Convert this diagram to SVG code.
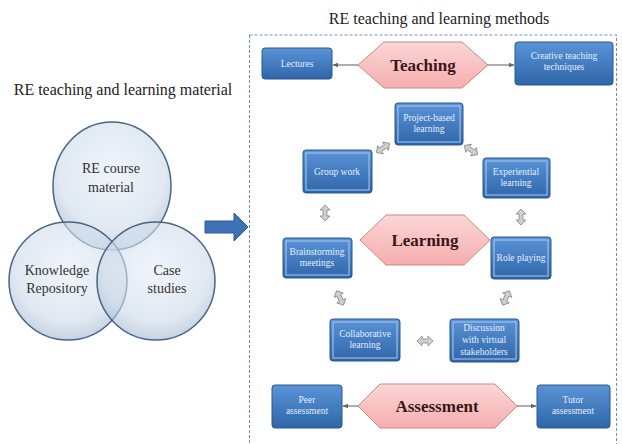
<svg xmlns="http://www.w3.org/2000/svg" xmlns:xlink="http://www.w3.org/1999/xlink" width="622" height="444" viewBox="0 0 622 444">
<defs>
<style>
.title{font-family:"Liberation Serif",serif;font-size:16px;fill:#222;text-anchor:middle}
.venn{fill:url(#vg);stroke:#4b6584;stroke-width:1.5;fill-opacity:0.6}
.vt{font-family:"Liberation Serif",serif;font-size:14px;fill:#333;text-anchor:middle}
.box{fill:url(#bg);stroke:#2b568c;stroke-width:1}
.inner{fill:none;stroke:#a9c9ef;stroke-width:1}
.bt{font-family:"Liberation Serif",serif;font-size:9.5px;fill:#e3eefc;text-anchor:middle}
.hex{fill:url(#hg);stroke:#d08686;stroke-width:1}
.ht{font-family:"Liberation Serif",serif;font-weight:bold;font-size:17px;fill:#3a1616;text-anchor:middle}
.conn{stroke:#777;stroke-width:1.2;fill:none;marker-end:url(#ah)}
.da{fill:#cfcfcf;stroke:#888;stroke-width:0.8}
</style>
<radialGradient id="vg" cx="0.5" cy="0.4" r="0.6">
<stop offset="0" stop-color="#e6eef7"/>
<stop offset="0.75" stop-color="#cbd9e8"/>
<stop offset="1" stop-color="#9fb6cf"/>
</radialGradient>
<linearGradient id="bg" x1="0" y1="0" x2="0" y2="1">
<stop offset="0" stop-color="#5a93d6"/>
<stop offset="1" stop-color="#2f66aa"/>
</linearGradient>
<linearGradient id="hg" x1="0" y1="0" x2="0" y2="1">
<stop offset="0" stop-color="#fbd6d6"/>
<stop offset="1" stop-color="#f5aeae"/>
</linearGradient>
<marker id="ah" viewBox="0 0 10 10" refX="9" refY="5" markerWidth="5" markerHeight="5" orient="auto">
<path d="M0,1 L10,5 L0,9 Z" fill="#666"/>
</marker>
<path id="dbl" class="da" d="M-8,0 L-3,-5 L-3,-2 L3,-2 L3,-5 L8,0 L3,5 L3,2 L-3,2 L-3,5 Z"/>
</defs>
<rect width="622" height="444" fill="#fff"/>

<text class="title" x="439" y="24">RE teaching and learning methods</text>
<text class="title" x="123" y="95">RE teaching and learning material</text>
<rect x="249.5" y="35" width="367" height="412" fill="none" stroke="#6d8fc0" stroke-width="1" stroke-dasharray="3,2"/>

<g id="venn">
<ellipse class="venn" cx="112" cy="186" rx="59" ry="64"/>
<ellipse class="venn" cx="68" cy="281" rx="59" ry="59"/>
<ellipse class="venn" cx="156" cy="281" rx="59" ry="59"/>
<text class="vt" x="111" y="173">RE course</text>
<text class="vt" x="111" y="192">material</text>
<text class="vt" x="57" y="275">Knowledge</text>
<text class="vt" x="57" y="293">Repository</text>
<text class="vt" x="167" y="275">Case</text>
<text class="vt" x="167" y="293">studies</text>
</g>

<g id="bigArrow">
<path d="M205,221 L234,221 L234,213 L248,227 L234,241 L234,233 L205,233 Z" fill="#3f72b5" stroke="#2d5a93" stroke-width="1"/>
</g>

<g id="connectors">
<line class="conn" x1="358" y1="65" x2="333" y2="65"/>
<line class="conn" x1="488" y1="65" x2="514" y2="65"/>
<line class="conn" x1="358" y1="406" x2="343" y2="406"/>
<line class="conn" x1="517" y1="406" x2="536" y2="406"/>
<use xlink:href="#dbl" transform="translate(383,148) rotate(-35)"/>
<use xlink:href="#dbl" transform="translate(471,150) rotate(35)"/>
<use xlink:href="#dbl" transform="translate(325,213) rotate(90)"/>
<use xlink:href="#dbl" transform="translate(521,217) rotate(90)"/>
<use xlink:href="#dbl" transform="translate(340,298) rotate(65)"/>
<use xlink:href="#dbl" transform="translate(506,298) rotate(115)"/>
<use xlink:href="#dbl" transform="translate(425,341)"/>
</g>

<g id="teaching">
<polygon class="hex" points="358,65 384,42 462,42 488,65 462,88 384,88"/>
<text class="ht" x="423" y="71">Teaching</text>
</g>
<g id="lectures">
<rect class="box" x="262" y="48" width="70" height="31" rx="3"/>
<text class="bt" x="297" y="67">Lectures</text>
</g>
<g id="creative">
<rect class="box" x="515" y="42" width="98" height="43" rx="3"/>
<text class="bt" x="564" y="59">Creative teaching</text>
<text class="bt" x="564" y="70">techniques</text>
</g>

<g id="learning">
<polygon class="hex" points="360,240 386,215 464,215 490,240 464,265 386,265"/>
<text class="ht" x="425" y="246">Learning</text>
</g>
<g id="project">
<rect class="box" x="395" y="103" width="68" height="42" rx="3"/>
<rect class="inner" x="398" y="106" width="62" height="36"/>
<text class="bt" x="429" y="121">Project-based</text>
<text class="bt" x="429" y="132">learning</text>
</g>
<g id="group">
<rect class="box" x="303" y="150" width="69" height="43" rx="3"/>
<rect class="inner" x="306" y="153" width="63" height="37"/>
<text class="bt" x="337" y="175">Group work</text>
</g>
<g id="experiential">
<rect class="box" x="483" y="158" width="67" height="40" rx="3"/>
<rect class="inner" x="486" y="161" width="61" height="34"/>
<text class="bt" x="516" y="175">Experiential</text>
<text class="bt" x="516" y="186">learning</text>
</g>
<g id="brainstorming">
<rect class="box" x="283" y="238" width="69" height="40" rx="3"/>
<rect class="inner" x="286" y="241" width="63" height="34"/>
<text class="bt" x="317" y="255">Brainstorming</text>
<text class="bt" x="317" y="266">meetings</text>
</g>
<g id="roleplaying">
<rect class="box" x="491" y="237" width="60" height="42" rx="3"/>
<rect class="inner" x="494" y="240" width="54" height="36"/>
<text class="bt" x="521" y="261">Role playing</text>
</g>
<g id="collaborative">
<rect class="box" x="330" y="319" width="70" height="42" rx="3"/>
<rect class="inner" x="333" y="322" width="64" height="36"/>
<text class="bt" x="365" y="337">Collaborative</text>
<text class="bt" x="365" y="348">learning</text>
</g>
<g id="discussion">
<rect class="box" x="450" y="319" width="69" height="43" rx="3"/>
<rect class="inner" x="453" y="322" width="63" height="37"/>
<text class="bt" x="484" y="331">Discussion</text>
<text class="bt" x="484" y="343">with virtual</text>
<text class="bt" x="484" y="355">stakeholders</text>
</g>

<g id="assessment">
<polygon class="hex" points="358,406 380,384 495,384 517,406 495,428 380,428"/>
<text class="ht" x="437" y="412">Assessment</text>
</g>
<g id="peer">
<rect class="box" x="272" y="385" width="70" height="43" rx="3"/>
<text class="bt" x="307" y="403">Peer</text>
<text class="bt" x="307" y="414">assessment</text>
</g>
<g id="tutor">
<rect class="box" x="537" y="385" width="73" height="43" rx="3"/>
<text class="bt" x="573" y="403">Tutor</text>
<text class="bt" x="573" y="414">assessment</text>
</g>
</svg>
